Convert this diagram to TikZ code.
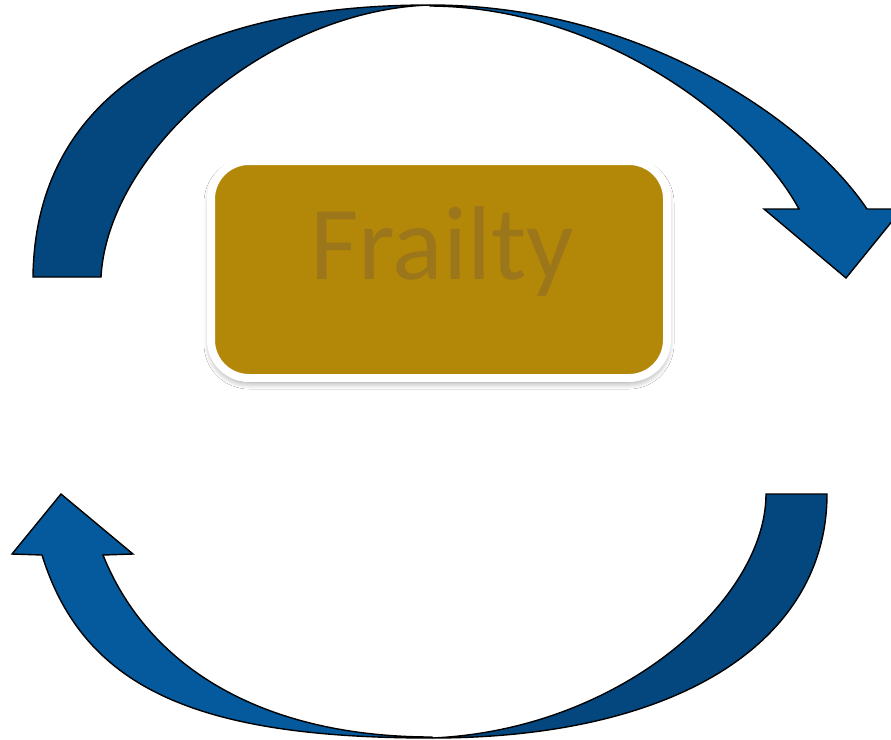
\documentclass[tikz,border=0pt]{standalone}
\usepackage{fontspec}
\newfontfamily\calib{Carlito}
\usetikzlibrary{shadows.blur}
\definecolor{darkblue}{RGB}{3,71,126}
\definecolor{lightblue}{RGB}{4,90,157}
\definecolor{gold}{RGB}{179,135,8}
\definecolor{goldtext}{RGB}{156,118,26}
\tikzset{
  bandpiece/.style={draw=black, line width=1.4pt, line join=miter},
  framebox/.style={rounded corners=38pt, fill=gold, draw=white, line width=8pt,
    minimum width=456pt, minimum height=217pt, inner sep=0pt,
    blur shadow={shadow xshift=0pt, shadow yshift=-4pt, shadow blur radius=7pt, shadow blur steps=10, shadow opacity=45}},
  title/.style={text=goldtext, font=\calib\fontsize{105}{105}\selectfont, inner sep=0pt}
}
\begin{document}
\begin{tikzpicture}[x=1pt,y=-1pt]
\useasboundingbox (0,0) rectangle (891,739);
\clip (0,0) rectangle (891,739);
\fill[white] (0,0) rectangle (891,739);
% top arrow
\path[bandpiece, fill=darkblue] (33,277) .. controls (35,100) and (180,5) .. (430,5)
  .. controls (270,10) and (108,150) .. (101,277) -- cycle;
\path[bandpiece, fill=lightblue] (430,5) .. controls (640,5) and (807,120) .. (867,209)
  -- (902,209) -- (846,278) -- (764,209) -- (799,209)
  .. controls (750,119) and (600,7) .. (430,6) -- cycle;
% bottom arrow
\path[bandpiece, fill=darkblue] (827,494) .. controls (827,640) and (680,738) .. (432,738)
  .. controls (620,730) and (766,600) .. (766,494) -- cycle;
\path[bandpiece, fill=lightblue] (432,738) .. controls (200,738) and (84,690) .. (42,555)
  -- (12,554) -- (61,494) -- (133,554) -- (103,555)
  .. controls (147,665) and (260,737) .. (432,737) -- cycle;
% central box
\node[framebox] (box) at (439,269.5) {};
\node[title, anchor=base] (frailty) at (442,279) {Frailty};
\end{tikzpicture}
\end{document}
